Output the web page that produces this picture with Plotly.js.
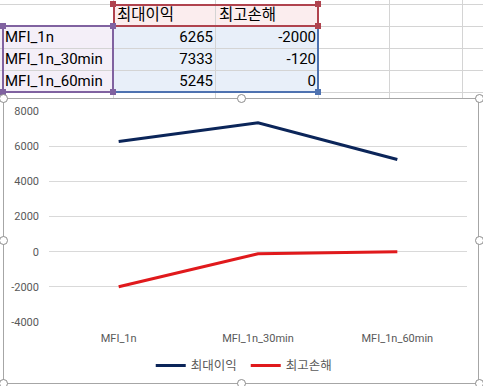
<!DOCTYPE html>
<html>
<head>
<meta charset="utf-8">
<script src="https://cdn.plot.ly/plotly-3.0.1.min.js"></script>
<style>
  html,body{margin:0;padding:0;background:#fff;width:483px;height:386px;overflow:hidden;}
  body{position:relative;font-family:Roboto,"Noto Sans CJK KR",sans-serif;}
  .gl{position:absolute;background:#D4D4D4;}
  .cell{position:absolute;font-size:15px;color:#000;line-height:22px;height:22px;white-space:nowrap;}
  .ko{font-size:15.5px;}
  .box{position:absolute;box-sizing:border-box;}
  .sq{position:absolute;width:6px;height:6px;}
  .hd{position:absolute;width:9px;height:9px;border:1.5px solid #8C8C8C;border-radius:50%;background:#fff;box-sizing:border-box;}
  #chartwrap{position:absolute;left:3px;top:98px;width:476px;height:286px;border:1px solid #A6A6A6;box-sizing:border-box;background:#fff;}
  #chart{position:absolute;left:0;top:0;width:474px;height:284px;}
</style>
</head>
<body>
<div id="sheet"></div>
<div id="chartwrap"><div id="chart"></div></div>
<div id="handles"></div>
<script>
const categories = ["MFI_1n", "MFI_1n_30min", "MFI_1n_60min"];
const seriesNames = ["최대이익", "최고손해"];
const maxProfit = [6265, 7333, 5245];
const maxLoss = [-2000, -120, 0];
const yTicks = [-4000, -2000, 0, 2000, 4000, 6000, 8000];

// ---- spreadsheet backdrop ----
const sheet = document.getElementById('sheet');
function add(parent, cls, style, text) {
  const d = document.createElement('div');
  d.className = cls;
  Object.assign(d.style, style);
  if (text !== undefined) d.textContent = text;
  parent.appendChild(d);
  return d;
}
const colX = [113, 215, 318, 389, 462];
const rowY = [4, 26, 48, 70, 92];
// fills
add(sheet, 'box', {left:'113px', top:'4px', width:'205px', height:'22px', background:'#FBEDEE'});
add(sheet, 'box', {left:'0px', top:'26px', width:'113px', height:'66px', background:'#F4EFF8'});
add(sheet, 'box', {left:'113px', top:'26px', width:'205px', height:'66px', background:'#E8EFF9'});
colX.forEach(x => add(sheet, 'gl', {left:x+'px', top:'0px', width:'1px', height:'98px'}));
rowY.forEach(y => add(sheet, 'gl', {left:'0px', top:y+'px', width:'483px', height:'1px'}));
// range borders
add(sheet, 'box', {left:'113px', top:'4px', width:'206px', height:'23px', border:'2px solid #B0434E'});
add(sheet, 'box', {left:'2px', top:'25px', width:'112px', height:'68px', border:'2px solid #8062A0'});
add(sheet, 'box', {left:'113px', top:'25px', width:'206px', height:'68px', border:'2px solid #4E72B0', borderLeft:'none', borderTop:'none'});
// corner squares
[[110,1],[315,1],[110,23],[315,23]].forEach(p => add(sheet,'sq',{left:p[0]+'px',top:p[1]+'px',background:'#B0434E'}));
[[0,23],[110,23],[0,89],[110,89]].forEach(p => add(sheet,'sq',{left:p[0]+'px',top:p[1]+'px',background:'#8062A0'}));
add(sheet,'sq',{left:'315px',top:'89px',background:'#4E72B0'});
// header text
seriesNames.forEach((n, i) => add(sheet, 'cell ko', {left:(colX[i]+4)+'px', top:'4px'}, n));
categories.forEach((c, r) => {
  const top = rowY[r+1];
  add(sheet, 'cell', {left:'5px', top:top+'px'}, c);
  add(sheet, 'cell', {left:'113px', width:'100px', textAlign:'right', top:top+'px'}, String(maxProfit[r]));
  add(sheet, 'cell', {left:'215px', width:'101px', textAlign:'right', top:top+'px'}, String(maxLoss[r]));
});

// ---- chart ----
const gray = '#595959';
const fam = 'Roboto,"Noto Sans CJK KR",sans-serif';
const traces = [
  {x: categories, y: maxProfit, name: seriesNames[0], type: 'scatter', mode: 'lines',
   line: {color: '#0B2559', width: 3}},
  {x: categories, y: maxLoss, name: seriesNames[1], type: 'scatter', mode: 'lines',
   line: {color: '#E0191C', width: 3}}
];
const layout = {
  width: 474, height: 284,
  margin: {l: 45, r: 11, t: 12, b: 61},
  paper_bgcolor: '#fff', plot_bgcolor: '#fff',
  font: {family: fam, color: gray, size: 11},
  showlegend: true,
  legend: {orientation: 'h', x: 0.51, xanchor: 'center', xref: 'container',
           y: 0.06, yanchor: 'middle', yref: 'container',
           font: {size: 12.5, color: gray, family: fam}, entrywidth: 50, entrywidthmode: 'pixels'},
  xaxis: {type: 'category', range: [-0.5, 2.5], showgrid: false, zeroline: false,
          showline: false, ticks: '', tickfont: {size: 11, color: gray}, fixedrange: true,
          ticklabelstandoff: 8},
  yaxis: {range: [-4000, 8000], tickvals: yTicks, ticktext: yTicks.map(String),
          showgrid: true, gridcolor: '#D9D9D9', gridwidth: 1, zeroline: false,
          showline: false, ticks: '', tickfont: {size: 11, color: gray}, fixedrange: true, ticklabelstandoff: 9}
};
Plotly.newPlot('chart', traces, layout, {displayModeBar: false, staticPlot: true});

// chart selection handles
const hs = document.getElementById('handles');
[[3,98],[241,98],[479,98],[3,240],[479,240],[3,383],[241,383],[479,383]].forEach(p =>
  add(hs, 'hd', {left:(p[0]-4.5)+'px', top:(p[1]-4.5)+'px'}));
</script>
</body>
</html>
